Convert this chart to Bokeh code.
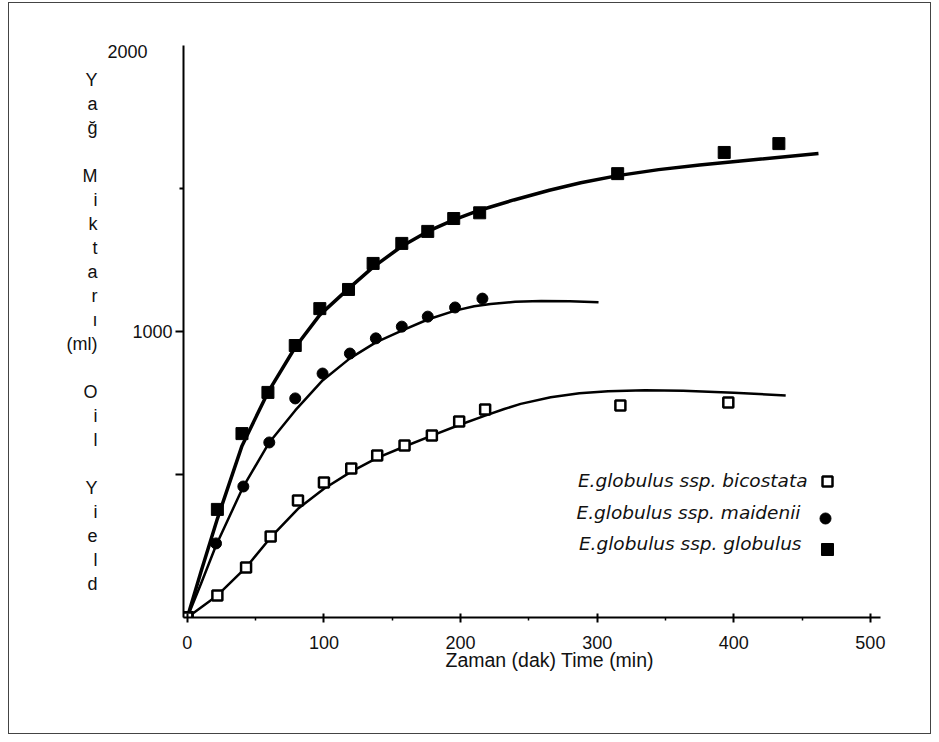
from bokeh.plotting import figure
from bokeh.models import Range1d, FixedTicker, Label, Title
from bokeh.embed import file_html
from bokeh.resources import INLINE

# ---------------- data ----------------
# E.globulus ssp. globulus  (filled squares)
glob_t = [0, 22, 40, 59, 79, 97, 118, 136, 157, 176, 195, 214, 315, 393, 433]
glob_v = [0, 378, 643, 787, 951, 1080, 1147, 1238, 1308, 1350, 1395, 1415, 1552, 1626, 1657]
glob_fit_t = [0, 10, 22, 40, 59, 79, 97, 118, 136, 157, 176, 195, 214, 239, 265, 288, 315, 345, 375, 420, 462]
glob_fit_v = [0, 160, 345, 600, 787, 945, 1058, 1150, 1225, 1298, 1350, 1390, 1424, 1460, 1494, 1520, 1545, 1566, 1582, 1603, 1622]

# E.globulus ssp. maidenii  (filled circles)
maid_t = [0, 21, 41, 60, 79, 99, 119, 138, 157, 176, 196, 216]
maid_v = [0, 259, 458, 612, 766, 853, 923, 976, 1017, 1052, 1084, 1115]
maid_fit_t = [0, 10, 21, 41, 60, 79, 99, 119, 138, 157, 176, 196, 210, 222, 240, 259, 280, 301]
maid_fit_v = [0, 118, 252, 458, 612, 724, 829, 906, 962, 1003, 1042, 1073, 1088, 1096, 1104, 1107, 1106, 1102]

# E.globulus ssp. bicostata  (open squares)
bico_t = [0, 22, 43, 61, 81, 100, 120, 139, 159, 179, 199, 218, 317, 396]
bico_v = [0, 77, 175, 283, 409, 472, 521, 566, 601, 636, 685, 727, 741, 752]
bico_fit_t = [0, 10, 22, 43, 61, 81, 100, 120, 139, 159, 179, 199, 218, 232, 244, 266, 287, 308, 335, 363, 400, 438]
bico_fit_v = [0, 35, 77, 175, 280, 380, 450, 510, 558, 598, 636, 673, 706, 729, 747, 770, 784, 791, 795, 793, 786, 776]

x_ticks = [0, 100, 200, 300, 400, 500]
x_minor = [50, 150, 250, 350, 450]
y_ticks = [500, 1000]
y_minor = [1500]
y_top_label = "2000"

series_names = ["E.globulus ssp. bicostata", "E.globulus ssp. maidenii", "E.globulus ssp. globulus"]
x_title = "Zaman (dak)  Time (min)"
y_title_lines = ["Y", "a", "ğ", "", "M", "i", "k", "t", "a", "r", "ı", "(ml)", "",
                 "O", "i", "l", "", "Y", "i", "e", "l", "d"]

# ---------------- figure ----------------
X0, X1 = -2.8, 507.4
Y0, Y1 = 0, 2000
W, H = 931, 734
LEFT, TOP, FRAME_W, FRAME_H = 183, 45, 697, 572
p = figure(width=W, height=H, x_range=Range1d(X0, X1), y_range=Range1d(Y0, Y1),
           output_backend="svg", toolbar_location=None,
           min_border_left=LEFT, min_border_right=W - LEFT - FRAME_W,
           min_border_top=TOP, min_border_bottom=H - TOP - FRAME_H)
line_css = "linear-gradient(#444,#444)"
p.styles = {"background": (
    f"{line_css} 8px 2px / {W - 8}px 1px no-repeat, "
    f"{line_css} 8px {H - 1}px / {W - 8}px 1px no-repeat, "
    f"{line_css} 8px 2px / 1px {H - 2}px no-repeat, "
    f"{line_css} {W - 1}px 2px / 1px {H - 2}px no-repeat, #ffffff")}
p.border_fill_color = None
p.background_fill_color = "white"
p.xgrid.visible = False
p.ygrid.visible = False
p.outline_line_color = None

def px_to_data(xpx, ypx):
    # screen position of the reference page -> data coordinates (for annotations)
    t = X0 + (xpx - LEFT) * (X1 - X0) / FRAME_W
    v = Y0 + (TOP + FRAME_H - ypx) * (Y1 - Y0) / FRAME_H
    return t, v

TXT = "#111"

# x axis
xa = p.xaxis[0]
xa.ticker = FixedTicker(ticks=x_ticks, minor_ticks=x_minor)
xa.axis_line_width = 2
xa.axis_line_color = "black"
xa.major_tick_line_width = 2
xa.major_tick_in = 4
xa.major_tick_out = 5
xa.minor_tick_line_width = 1.5
xa.minor_tick_in = 0
xa.minor_tick_out = 3
xa.major_label_text_font = "Liberation Sans"
xa.major_label_text_font_size = "18px"
xa.major_label_text_color = TXT
xa.major_label_standoff = 13

# y axis
ya = p.yaxis[0]
ya.ticker = FixedTicker(ticks=y_ticks, minor_ticks=y_minor)
ya.major_label_overrides = {500: ""}
ya.axis_line_width = 2
ya.axis_line_color = "black"
ya.major_tick_line_width = 2
ya.major_tick_in = 0
ya.major_tick_out = 8
ya.minor_tick_line_width = 2
ya.minor_tick_in = 0
ya.minor_tick_out = 4
ya.major_label_text_font = "Liberation Sans"
ya.major_label_text_font_size = "18px"
ya.major_label_text_color = TXT
ya.major_label_standoff = 3
ya.axis_label = "\n".join(y_title_lines)
ya.axis_label_orientation = "horizontal"
ya.axis_label_text_font = "Liberation Sans"
ya.axis_label_text_font_size = "18px"
ya.axis_label_text_font_style = "normal"
ya.axis_label_text_color = TXT
ya.axis_label_text_line_height = 1.2
ya.axis_label_standoff = 32

# the top "2000" label sits further left than the other tick labels in the reference
p.add_layout(Title(text=y_top_label, align="left", offset=-76, standoff=-24,
                   text_font="Liberation Sans", text_font_size="18px",
                   text_font_style="normal", text_color=TXT), "above")

# x axis title (a little right of the frame centre, as in the reference)
p.add_layout(Title(text=x_title, align="left", offset=262, standoff=-10,
                   text_font="Liberation Sans", text_font_size="19.5px",
                   text_font_style="normal", text_color=TXT), "below")

# fitted curves
p.line(glob_fit_t, glob_fit_v, line_color="black", line_width=3.5)
p.line(maid_fit_t, maid_fit_v, line_color="black", line_width=2.5)
p.line(bico_fit_t, bico_fit_v, line_color="black", line_width=2.5)

# measured points
p.scatter(glob_t, glob_v, marker="square", size=12, fill_color="black", line_color="black")
p.scatter(maid_t, maid_v, marker="circle", size=11, fill_color="black", line_color="black")
p.scatter(bico_t, bico_v, marker="square", size=10, fill_color="white", line_color="black", line_width=2.5)

# legend (text on the left, key on the right)
leg_text_pos = [(807, 480), (800, 512), (801, 543)]
leg_key_pos = [(827, 481), (825, 518), (827, 549)]
for name, (xp, yp) in zip(series_names, leg_text_pos):
    t, v = px_to_data(xp, yp)
    p.add_layout(Label(x=t, y=v, text=name, text_align="right", text_baseline="middle",
                       text_font="DejaVu Sans", text_font_style="italic",
                       text_font_size="18.5px", text_color=TXT))
keys = [px_to_data(*xy) for xy in leg_key_pos]
p.scatter([keys[0][0]], [keys[0][1]], marker="square", size=10, fill_color="white",
          line_color="black", line_width=2.5)
p.scatter([keys[1][0]], [keys[1][1]], marker="circle", size=11, fill_color="black", line_color="black")
p.scatter([keys[2][0]], [keys[2][1]], marker="square", size=12, fill_color="black", line_color="black")

open("out.html", "w").write(file_html(p, INLINE))
